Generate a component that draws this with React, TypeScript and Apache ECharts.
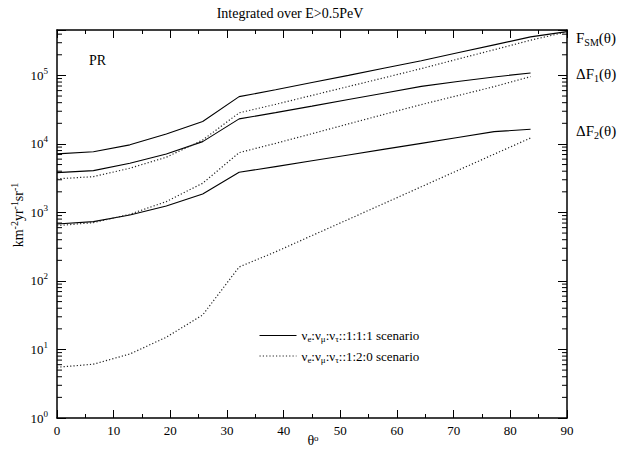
import React, { useEffect, useRef } from 'react';
import * as echarts from 'echarts';

const SERIF = 'Liberation Serif';

// zenith angle nodes (degrees)
const thetaNodes = [0, 6.43, 12.86, 19.29, 25.71, 32.14, 38.57, 45, 51.43, 57.86, 64.29, 70.71, 77.14, 83.57, 90];

// nu_e:nu_mu:nu_tau :: 1:1:1 scenario (solid)
const fsm111 = [7150, 7700, 9700, 14000, 21200, 49000, 61700, 78700, 100000, 128000, 164000, 214000, 279000, 365000, 436000];
const df1_111 = [3810, 4080, 5230, 7150, 10800, 23200, 28600, 35600, 44500, 55300, 69200, 81700, 95000, 108700];
const df2_111 = [679, 734, 920, 1245, 1860, 3860, 4670, 5670, 6890, 8400, 10200, 12400, 15100, 16400];

// nu_e:nu_mu:nu_tau :: 1:2:0 scenario (dotted)
const fsm120 = [3090, 3330, 4420, 6390, 11400, 28400, 37800, 51100, 68900, 92900, 125700, 173000, 237000, 326000, 432000];
const df1_120 = [642, 710, 942, 1440, 2670, 7460, 10200, 14100, 19600, 27200, 37500, 50700, 68600, 96000];
const df2_120 = [5.5, 6.1, 8.6, 15.1, 31.9, 160, 266, 460, 793, 1370, 2370, 4100, 7080, 12200];

const legendLabels: Record<string, string> = {
  s111: '{n|ν}{s|e}{n|:ν}{s|μ}{n|:ν}{s|τ}{n|::1:1:1 scenario}',
  s120: '{n|ν}{s|e}{n|:ν}{s|μ}{n|:ν}{s|τ}{n|::1:2:0 scenario}',
};

const X_MIN = 0;
const X_MAX = 90;
const Y_MIN = 1;
const Y_MAX = 460000;
const minorMultipliers = [2, 3, 4, 5, 6, 7, 8, 9];
const decades = [1, 10, 100, 1000, 10000, 100000];

const W = 628;
const H = 452;

const pts = (vals: number[]) => vals.map((v, i) => [thetaNodes[i], v]);

export default function App() {
  const ref = useRef<HTMLDivElement>(null);

  useEffect(() => {
    const chart = echarts.init(ref.current!, null, { renderer: 'svg', width: W, height: H });

    const minorTickValues: number[] = [];
    decades.forEach((d) => minorMultipliers.forEach((m) => { if (m * d < Y_MAX) minorTickValues.push(m * d); }));

    const solidStyle = { color: '#000', width: 1.1, type: 'solid' as const };
    const dotStyle = { color: '#222', width: 1.2, type: [1.2, 2.1] as any };

    const lineSeries = (name: string, data: number[], style: any) => ({
      name,
      type: 'line',
      data: pts(data),
      symbol: 'none',
      lineStyle: style,
      itemStyle: { color: style.color },
      z: 3,
      silent: true,
    });

    const axisLabelRich = {
      b: { fontFamily: SERIF, fontSize: 13, color: '#000', lineHeight: 18 },
      e: { fontFamily: SERIF, fontSize: 9, color: '#000', lineHeight: 10, verticalAlign: 'top' },
    };

    const option: any = {
      animation: false,
      backgroundColor: '#fff',
      textStyle: { fontFamily: SERIF },
      grid: { left: 57, right: 61, top: 30, bottom: 34, outerBoundsMode: 'none', containLabel: false },
      xAxis: [
        {
          type: 'value', min: X_MIN, max: X_MAX, interval: 10, position: 'bottom',
          axisLine: { onZero: false, lineStyle: { color: '#000', width: 1.5 } },
          axisTick: { inside: true, length: 8, lineStyle: { color: '#000', width: 1 } },
          minorTick: { show: true, splitNumber: 2, length: 4, lineStyle: { color: '#000', width: 1 } },
          splitLine: { show: false },
          axisLabel: { fontFamily: SERIF, fontSize: 13, color: '#000', margin: 6 },
        },
        {
          type: 'value', min: X_MIN, max: X_MAX, interval: 10, position: 'top',
          axisLine: { onZero: false, lineStyle: { color: '#000', width: 1.5 } },
          axisTick: { inside: true, length: 8, lineStyle: { color: '#000', width: 1 } },
          minorTick: { show: true, splitNumber: 2, length: 4, lineStyle: { color: '#000', width: 1 } },
          splitLine: { show: false },
          axisLabel: { show: false },
        },
      ],
      yAxis: [
        {
          type: 'log', logBase: 10, min: Y_MIN, max: Y_MAX, position: 'left',
          axisLine: { onZero: false, lineStyle: { color: '#000', width: 1.5 } },
          axisTick: { inside: true, length: 9, lineStyle: { color: '#000', width: 1 } },
          splitLine: { show: false },
          axisLabel: {
            margin: 9,
            formatter: (v: number) => {
              const e = Math.log10(v);
              if (Math.abs(e - Math.round(e)) > 1e-6) return '';
              return `{b|10}{e|${Math.round(e)}}`;
            },
            rich: axisLabelRich,
          },
        },
        {
          type: 'log', logBase: 10, min: Y_MIN, max: Y_MAX, position: 'right',
          axisLine: { onZero: false, lineStyle: { color: '#000', width: 1.5 } },
          axisTick: { inside: true, length: 9, lineStyle: { color: '#000', width: 1 } },
          splitLine: { show: false },
          axisLabel: { show: false },
        },
      ],
      legend: {
        data: ['s111', 's120'],
        orient: 'vertical',
        left: 254,
        top: 324,
        itemWidth: 37,
        itemHeight: 14,
        itemGap: 6,
        itemStyle: { opacity: 0 },
        lineStyle: { width: 1 },
        formatter: (n: string) => legendLabels[n],
        textStyle: {
          rich: {
            n: { fontFamily: SERIF, fontSize: 13, color: '#000', lineHeight: 16 },
            s: { fontFamily: SERIF, fontSize: 9, color: '#000', lineHeight: 10, verticalAlign: 'bottom' },
          },
        },
        selectedMode: false,
      },
      graphic: [
        {
          type: 'text', x: 290, y: 13, silent: true,
          style: { text: 'Integrated over E>0.5PeV', fill: '#000', fontFamily: SERIF, fontSize: 14, textAlign: 'center', textVerticalAlign: 'middle', align: 'center', verticalAlign: 'middle' },
        },
        {
          type: 'text', x: 89, y: 60, silent: true,
          style: { text: 'PR', fill: '#000', fontFamily: SERIF, fontSize: 14, textAlign: 'left', textVerticalAlign: 'middle', align: 'left', verticalAlign: 'middle' },
        },
        {
          type: 'text', x: 313, y: 440, silent: true,
          style: {
            text: '{t|θ}{o|o}', fill: '#000', textAlign: 'center', textVerticalAlign: 'middle', align: 'center', verticalAlign: 'middle',
            rich: {
              t: { fontFamily: SERIF, fontSize: 14, fill: '#000', lineHeight: 14 },
              o: { fontFamily: SERIF, fontSize: 9, fill: '#000', lineHeight: 9, verticalAlign: 'top' },
            },
          },
        },
        ...[
          { y: 38, text: '{n|F}{s|SM}{n|(θ)}' },
          { y: 74, text: '{n|ΔF}{s|1}{n|(θ)}' },
          { y: 131, text: '{n|ΔF}{s|2}{n|(θ)}' },
        ].map((l) => ({
          type: 'text', x: 576, y: l.y, silent: true,
          style: {
            text: l.text, fill: '#000', textAlign: 'left', textVerticalAlign: 'middle', align: 'left', verticalAlign: 'middle',
            rich: {
              n: { fontFamily: SERIF, fontSize: 15, fill: '#000', lineHeight: 18 },
              s: { fontFamily: SERIF, fontSize: 10, fill: '#000', lineHeight: 10, verticalAlign: 'bottom' },
            },
          },
        })),
        {
          type: 'text', x: 18, y: 215, rotation: Math.PI / 2, silent: true,
          style: {
            text: '{b|km}{e|-2}{b|yr}{e|-1}{b|sr}{e|-1}', fill: '#000',
            textAlign: 'center', textVerticalAlign: 'middle', align: 'center', verticalAlign: 'middle',
            rich: {
              b: { fontFamily: SERIF, fontSize: 14, fill: '#000', lineHeight: 18 },
              e: { fontFamily: SERIF, fontSize: 10, fill: '#000', lineHeight: 10, verticalAlign: 'top' },
            },
          },
        },
      ],
      series: [
        lineSeries('s111', fsm111, solidStyle),
        lineSeries('s111', df1_111, solidStyle),
        lineSeries('s111', df2_111, solidStyle),
        lineSeries('s120', fsm120, dotStyle),
        lineSeries('s120', df1_120, dotStyle),
        lineSeries('s120', df2_120, dotStyle),
        {
          type: 'custom',
          name: 'minorTicks',
          silent: true,
          clip: false,
          z: 5,
          data: minorTickValues.map((v) => [X_MIN, v]),
          renderItem: (_p: any, api: any) => {
            const v = api.value(1);
            const pl = api.coord([X_MIN, v]);
            const pr = api.coord([X_MAX, v]);
            const st = { stroke: '#000', lineWidth: 1 };
            return {
              type: 'group',
              children: [
                { type: 'line', shape: { x1: pl[0], y1: pl[1], x2: pl[0] + 5, y2: pl[1] }, style: st },
                { type: 'line', shape: { x1: pr[0] - 5, y1: pr[1], x2: pr[0], y2: pr[1] }, style: st },
              ],
            };
          },
        },
      ],
    };

    chart.setOption(option);
    return () => chart.dispose();
  }, []);

  return (
    <div
      ref={ref}
      style={{ position: 'fixed', left: 0, top: 0, width: W, height: H, background: '#fff' }}
    />
  );
}
